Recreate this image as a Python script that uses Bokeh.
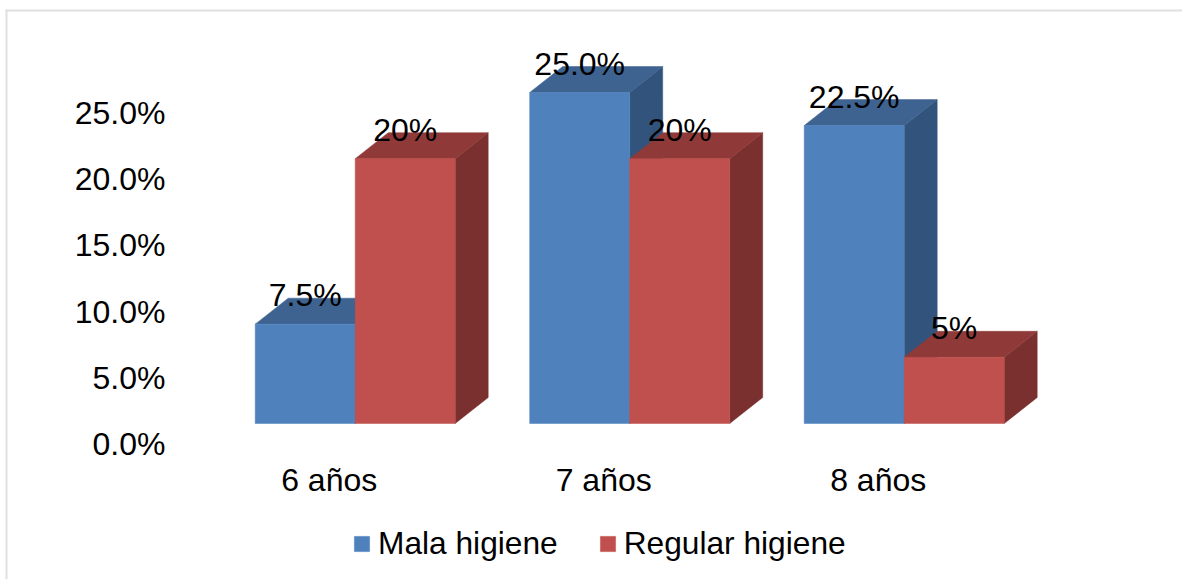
from bokeh.plotting import figure
from bokeh.models import (ColumnDataSource, Range1d, LinearAxis, FixedTicker, Legend, LegendItem,
                          BoxAnnotation, CustomJSTickFormatter)
from bokeh.core.properties import value
from bokeh.embed import file_html
from bokeh.resources import INLINE

categories = ["6 años", "7 años", "8 años"]
mala = [7.5, 25.0, 22.5]
regular = [20, 20, 5]
mala_labels = ["7.5%", "25.0%", "22.5%"]
regular_labels = ["20%", "20%", "5%"]
y_ticks = [0, 5, 10, 15, 20, 25]

W, H = 1182, 579
PX_PER_PCT = 13.24
BASE_Y = 423
XAXIS_Y = 455
YAXIS_X = 172
GROUP_STEP = 274.5
BAR_W = 100
DX, DY = 33, 26
FONT = "Liberation Sans"

p = figure(width=W, height=H, output_backend="svg", toolbar_location=None,
           min_border_left=0, min_border_right=0, min_border_top=0, min_border_bottom=0,
           x_axis_type=None, y_axis_type=None, tools="")
p.outline_line_color = None
p.grid.visible = False

p.x_range = Range1d(0, W)
p.y_range = Range1d((BASE_Y - H) / PX_PER_PCT, BASE_Y / PX_PER_PCT)
dy = DY / PX_PER_PCT

centers = [354.7 + i * GROUP_STEP for i in range(len(categories))]

def draw(vals, lefts, front, top, side):
    rights = [l + BAR_W for l in lefts]
    p.patches([[r, r + DX, r + DX, r] for r in rights],
              [[0, dy, v + dy, v] for v in vals], fill_color=side, line_color=side, line_width=0.5)
    p.patches([[l, l + DX, r + DX, r] for l, r in zip(lefts, rights)],
              [[v, v + dy, v + dy, v] for v in vals], fill_color=top, line_color=top, line_width=0.5)
    return p.quad(left=lefts, right=rights, bottom=[0] * len(vals), top=vals,
                  fill_color=front, line_color=front, line_width=0.5)

lm = [c - BAR_W for c in centers]
lr = list(centers)
r_m = draw(mala, lm, "#4F81BD", "#3E6390", "#32547C")
r_r = draw(regular, lr, "#C0504D", "#8F3A38", "#7A302E")

src = ColumnDataSource(dict(
    x=[l + BAR_W / 2 for l in lm] + [l + BAR_W / 2 for l in lr],
    y=mala + regular,
    t=mala_labels + regular_labels))
p.text("x", "y", text="t", source=src, text_font=value(FONT), text_font_size="32px",
       text_align="center", text_baseline="middle", text_color="#000000", y_offset=-29)

p.extra_y_ranges["ax"] = Range1d((443.5 - H) / PX_PER_PCT, 443.5 / PX_PER_PCT)
ya = LinearAxis(y_range_name="ax", ticker=FixedTicker(ticks=y_ticks), fixed_location=YAXIS_X,
                formatter=CustomJSTickFormatter(code="return tick.toFixed(1) + '%'"),
                axis_line_color=None, major_tick_line_color=None, minor_tick_line_color=None,
                major_label_text_font=FONT, major_label_text_font_size="32px",
                major_label_text_color="#000000", major_label_standoff=1)
p.add_layout(ya, "left")

p.extra_x_ranges["ax"] = Range1d(26, W + 26)
overrides = {c: n for c, n in zip(centers, categories)}
xa = LinearAxis(x_range_name="ax", ticker=FixedTicker(ticks=centers),
                major_label_overrides=overrides, fixed_location=(BASE_Y - XAXIS_Y) / PX_PER_PCT,
                axis_line_color=None, major_tick_line_color=None, minor_tick_line_color=None,
                major_label_text_font=FONT, major_label_text_font_size="32px",
                major_label_text_color="#000000", major_label_standoff=0)
p.add_layout(xa, "below")

legend = Legend(items=[LegendItem(label="Mala higiene", renderers=[r_m]),
                       LegendItem(label="Regular higiene", renderers=[r_r])],
                orientation="horizontal", location=(352, 17),
                border_line_color=None, background_fill_alpha=0,
                label_text_font=FONT, label_text_font_size="31.7px", label_text_color="#000000",
                glyph_width=19, glyph_height=19, spacing=40, label_standoff=7, margin=0, padding=0)
p.add_layout(legend, "center")

for kw in (dict(left=5, right=W, top=9, bottom=11), dict(left=5, right=7, top=9, bottom=H)):
    p.add_layout(BoxAnnotation(left_units="canvas", right_units="canvas", top_units="canvas",
                               bottom_units="canvas", fill_color="#E0E0E0", fill_alpha=1,
                               line_color=None, level="overlay", **kw))

open("out.html", "w").write(file_html(p, INLINE))
